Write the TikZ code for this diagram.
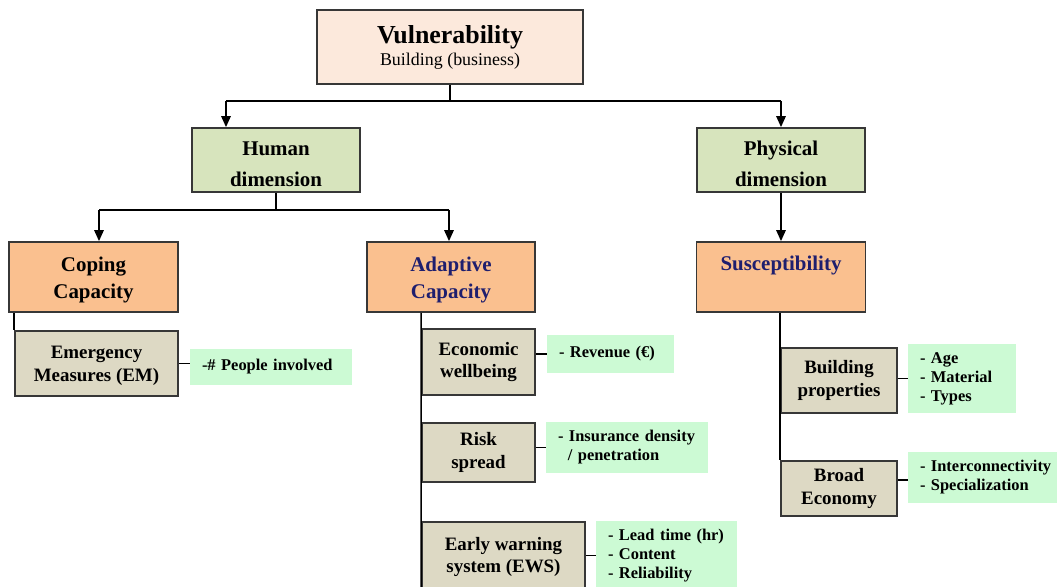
\documentclass[tikz,border=0pt]{standalone}
\usepackage{fontspec}
\setmainfont{Liberation Serif}
\usetikzlibrary{arrows.meta}
\definecolor{vulfill}{RGB}{252,233,220}
\definecolor{dimfill}{RGB}{215,228,189}
\definecolor{capfill}{RGB}{250,192,143}
\definecolor{itemfill}{RGB}{221,217,196}
\definecolor{notefill}{RGB}{204,250,212}
\definecolor{navy}{RGB}{30,30,110}
\definecolor{edge}{RGB}{55,55,55}
% taller first line pushes a two-line label a little lower in its box
\newcommand{\lowerby}[1]{\rule{0pt}{#1}}
\tikzset{
  box/.style={draw=edge, line width=1.8bp, inner sep=0pt, align=center, font=\bfseries},
  topbox/.style={box, fill=vulfill},
  dimbox/.style={box, fill=dimfill, font=\fontsize{21}{31}\selectfont\bfseries},
  capbox/.style={box, fill=capfill, font=\fontsize{21}{27}\selectfont\bfseries},
  itembox/.style={box, fill=itemfill, font=\fontsize{19}{23}\selectfont\bfseries},
  notebox/.style={fill=notefill, inner xsep=12bp, inner ysep=0pt, align=left,
    font=\fontsize{16.5}{19}\selectfont\bfseries},
  link/.style={line width=1.5bp, black},
  arr/.style={link, -{Triangle[length=11bp,width=9.5bp]}}
}
\begin{document}
\begin{tikzpicture}[x=1bp,y=-1bp]
\useasboundingbox (0,0) rectangle (1057,587);

% top level
\node[topbox, minimum width=266bp, minimum height=74bp] (vul) at (450,47)
  {{\fontsize{26}{28}\selectfont Vulnerability}\\[3bp]{\fontsize{18}{20}\selectfont\mdseries Building (business)}};

% dimensions
\node[dimbox, minimum width=168bp, minimum height=64bp] (hum) at (276,160) {\lowerby{22.5bp}Human\\dimension};
\node[dimbox, minimum width=168bp, minimum height=64bp] (phy) at (781,160) {\lowerby{22.5bp}Physical\\dimension};

% capacities
\node[capbox, minimum width=169bp, minimum height=70bp] (cop) at (93.5,277) {\lowerby{20.5bp}Coping\\Capacity};
\node[capbox, minimum width=168bp, minimum height=70bp, text=navy] (ada) at (451,277) {\lowerby{20.5bp}Adaptive\\Capacity};
\node[capbox, minimum width=169bp, minimum height=70bp, text=navy] (sus) at (781,277) {Susceptibility\\\mbox{}};

% components
\node[itembox, minimum width=163bp, minimum height=65bp] (em) at (96.5,363.5) {\lowerby{17bp}Emergency\\Measures (EM)};
\node[itembox, minimum width=113bp, minimum height=66bp] (eco) at (478.5,362) {Economic\\wellbeing};
\node[itembox, minimum width=113bp, minimum height=59bp] (risk) at (478.5,452.5) {Risk\\spread};
\node[itembox, minimum width=163bp, minimum height=70bp] (ews) at (503.5,557) {Early warning\\system (EWS)};
\node[itembox, minimum width=116bp, minimum height=65bp] (bld) at (839,380.5) {Building\\properties};
\node[itembox, minimum width=116bp, minimum height=55bp] (brd) at (839,488.5) {Broad\\Economy};

% indicators
\node[notebox, text width=138bp, minimum height=36bp] (nem) at (271,367) {-\# People involved};
\node[notebox, text width=103bp, minimum height=38bp] (neco) at (610.5,354) {- Revenue (€)};
\node[notebox, text width=138bp, minimum height=51bp] (nrisk) at (627,447.5) {- Insurance density\\\hspace*{0.6em}/ penetration};
\node[notebox, text width=117bp, minimum height=69bp] (news) at (666.5,555.5) {- Lead time (hr)\\- Content\\- Reliability};
\node[notebox, text width=84bp, minimum height=69bp] (nbld) at (962,378.5) {- Age\\- Material\\- Types};
\node[notebox, text width=140bp, minimum height=51bp] (nbrd) at (990,477.5) {\mbox{- Interconnectivity}\\\mbox{- Specialization}};

% tree connectors
\coordinate (t1) at (226,101);
\coordinate (t2) at (781,101);
\draw[link] (vul.south) -- (vul.south |- t1);
\draw[link] (t1) -- (t2);
\draw[arr] (t1) -- (t1 |- hum.north);
\draw[arr] (t2) -- (t2 |- phy.north);

\coordinate (h1) at (99,210);
\coordinate (h2) at (449,210);
\draw[link] (hum.south) -- (hum.south |- h1);
\draw[link] (h1) -- (h2);
\draw[arr] (h1) -- (h1 |- cop.north);
\draw[arr] (h2) -- (h2 |- ada.north);
\draw[arr] (phy.south) -- (sus.north);

% branches below the capacities
\draw[link] (em.north west |- cop.south) -- (em.north west);
\draw[link] (eco.north west |- ada.south) -- (ews.south west);
\draw[link] (bld.north west |- sus.south) -- (brd.north west);

% component to indicator links
\draw[link] (em.east) -- (nem.west |- em.east);
\draw[link] (eco.east |- neco.west) -- (neco.west);
\draw[link] (risk.east |- nrisk.west) -- (nrisk.west);
\draw[link] (ews.east |- news.west) -- (news.west);
\draw[link] (bld.east |- nbld.west) -- (nbld.west);
\draw[link] (brd.east |- 0,480) -- (nbrd.west |- 0,480);
\end{tikzpicture}
\end{document}
